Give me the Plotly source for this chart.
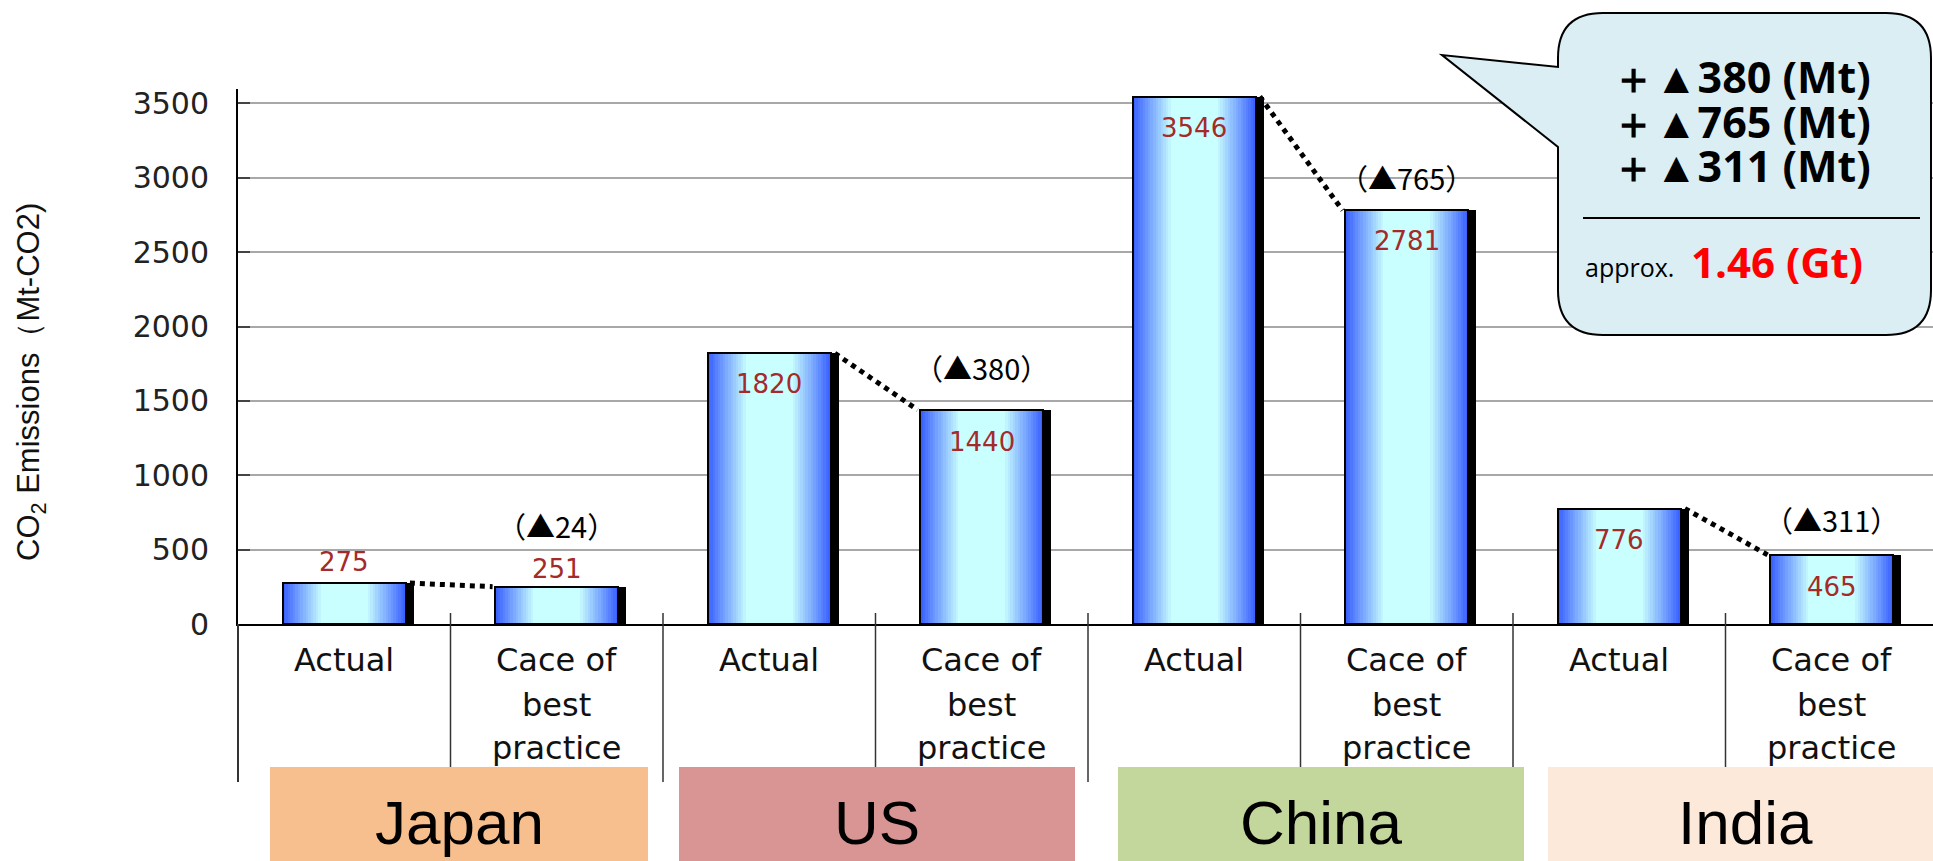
import plotly.graph_objects as go

# ---------------- data ----------------
countries = ["Japan", "US", "China", "India"]
actual = [275, 1820, 3546, 776]
best_practice = [251, 1440, 2781, 465]
reduction = [24, 380, 765, 311]
bar_labels = [["Actual"], ["Cace of", "best", "practice"]]
y_ticks = [0, 500, 1000, 1500, 2000, 2500, 3000, 3500]
callout_lines = ["＋▲380 (Mt)", "＋▲765 (Mt)", "＋▲311 (Mt)"]
callout_prefix = "approx."
callout_total = "1.46 (Gt)"
y_title = "CO<sub>2</sub> Emissions（Mt-CO2)"

# ---------------- layout geometry / styles ----------------
W, H = 1933, 861
L, T = 238, 89
PW, PH = 1695, 535
B = H - T - PH
CAT_PX = 212.5
XR = [-0.5, -0.5 + PW / CAT_PX]
YR = [0, 3597]
BAR_W = 0.58

group_colors = ["#f8bf8e", "#d99594", "#c3d69b", "#fde9d9"]
group_box_px = [(270, 648), (679, 1075), (1118, 1524), (1548, 1940)]
group_text_px = [459, 877, 1321, 1745]
label_color = "#a52a2a"


def px(x):
    return (x - L) / PW


def py(y):
    return (T + PH - y) / PH


def dx(x):
    return (x - XR[0]) / (XR[1] - XR[0])


# interleave values: Actual, Best practice per country
xs, vals = [], []
for g in range(len(countries)):
    xs += [2 * g, 2 * g + 1]
    vals += [actual[g], best_practice[g]]

fig = go.Figure()

# shadow
fig.add_trace(go.Bar(x=xs, y=vals, width=BAR_W, offset=-BAR_W / 2 + 8 / CAT_PX,
                     marker=dict(color="black", line=dict(width=0)), hoverinfo="skip"))

# gradient fill made from nested bars
edge = (58, 98, 255)
center = (202, 255, 255)
N = 16
for k in range(N):
    t = k / (N - 1)
    wk = BAR_W * (1 - 0.62 * t)
    c = tuple(round(edge[j] + (center[j] - edge[j]) * t) for j in range(3))
    fig.add_trace(go.Bar(x=xs, y=vals, width=wk,
                         marker=dict(color="rgb(%d,%d,%d)" % c, line=dict(width=0)),
                         hoverinfo="skip"))

# outline
fig.add_trace(go.Bar(x=xs, y=vals, width=BAR_W,
                     marker=dict(color="rgba(0,0,0,0)", line=dict(color="black", width=2)),
                     hoverinfo="skip"))

# dotted connectors
cx, cy = [], []
for g in range(len(countries)):
    i = 2 * g
    cx += [i + BAR_W / 2 + 4 / CAT_PX, i + 1 - BAR_W / 2 - 0.012, None]
    cy += [actual[g], best_practice[g], None]
fig.add_trace(go.Scatter(x=cx, y=cy, mode="lines",
                         line=dict(color="black", width=5, dash="dot"),
                         hoverinfo="skip"))

annotations = []
shapes = []


def ann(**kw):
    kw.setdefault("showarrow", False)
    kw.setdefault("xanchor", "center")
    kw.setdefault("yanchor", "middle")
    annotations.append(kw)


# value labels
value_shift = [21, 18, -31, -32, -31, -31, -31, -32]
for i, v in enumerate(vals):
    ann(x=xs[i], y=v, xref="x", yref="y", yshift=value_shift[i], text=str(v),
        font=dict(family="DejaVu Sans", size=26, color=label_color))

# reduction labels
red_shift = [62, 43, 33, 36]
for g in range(len(countries)):
    ann(x=2 * g + 1, y=best_practice[g], xref="x", yref="y", yshift=red_shift[g],
        text="（▲%d）" % reduction[g],
        font=dict(family="Noto Sans CJK JP", size=29, color="black"))

# category labels
line_shift = [-36, -81, -124]
for i in range(len(xs)):
    lines = bar_labels[i % 2]
    for j, ln in enumerate(lines):
        ann(x=xs[i], y=0, xref="x", yref="y", yshift=line_shift[j], text=ln,
            font=dict(family="DejaVu Sans", size=32, color="#111"))

# separators under axis
for k in range(len(xs) - 1):
    xp = dx(k + 0.5)
    shapes.append(dict(type="line", xref="paper", yref="paper",
                       x0=xp, x1=xp, y0=py(613), y1=py(782),
                       line=dict(color="#333", width=1.5)))
# y axis extension below
shapes.append(dict(type="line", xref="paper", yref="paper", x0=0, x1=0,
                   y0=py(624), y1=py(782), line=dict(color="#333", width=2)))

# country boxes
for g, name in enumerate(countries):
    x0, x1 = group_box_px[g]
    shapes.append(dict(type="rect", xref="paper", yref="paper",
                       x0=px(x0), x1=px(x1), y0=py(767), y1=py(880),
                       fillcolor=group_colors[g], line=dict(width=0)))
    ann(x=px(group_text_px[g]), y=py(822), xref="paper", yref="paper", text=name,
        font=dict(family="Liberation Sans", size=62, color="black"))

# callout bubble
bl, bt, br, bb, r = 1558, 13, 1931, 335, 45


def P(x, y):
    return "%.5f,%.5f" % (px(x), py(y))


path = ("M " + P(bl + r, bt) + " L " + P(br - r, bt) + " Q " + P(br, bt) + " " + P(br, bt + r) +
        " L " + P(br, bb - r) + " Q " + P(br, bb) + " " + P(br - r, bb) +
        " L " + P(bl + r, bb) + " Q " + P(bl, bb) + " " + P(bl, bb - r) +
        " L " + P(bl, 147) + " L " + P(1442, 55) + " L " + P(bl, 67) +
        " L " + P(bl, bt + r) + " Q " + P(bl, bt) + " " + P(bl + r, bt) + " Z")
shapes.append(dict(type="path", xref="paper", yref="paper", path=path,
                   fillcolor="#daeef3", line=dict(color="black", width=2), layer="above"))
shapes.append(dict(type="line", xref="paper", yref="paper", x0=px(1583), x1=px(1920),
                   y0=py(218), y1=py(218), line=dict(color="black", width=2), layer="above"))

for k, ln in enumerate(callout_lines):
    ann(x=px(1741), y=py(77 + 44 * k), xref="paper", yref="paper", text="<b>%s</b>" % ln,
        font=dict(family="Open Sans", size=43, color="black"))
ann(x=px(1583), y=py(267), xref="paper", yref="paper", xanchor="left", text=callout_prefix,
    font=dict(family="Open Sans", size=25, color="black"))
ann(x=px(1689), y=py(261), xref="paper", yref="paper", xanchor="left",
    text="<b>%s</b>" % callout_total,
    font=dict(family="Open Sans", size=42, color="#ff0000"))

# y axis title
ann(x=px(31), y=py(382), xref="paper", yref="paper", textangle=-90, text=y_title,
    font=dict(family="Liberation Sans", size=31, color="#111"))

fig.update_layout(
    width=W, height=H, autosize=False,
    margin=dict(l=L, r=W - L - PW, t=T, b=B, pad=0),
    paper_bgcolor="white", plot_bgcolor="white",
    barmode="overlay", bargap=0, showlegend=False, hovermode=False,
    xaxis=dict(range=XR, showgrid=False, zeroline=False, showticklabels=False,
               ticks="", showline=True, linecolor="black", linewidth=2, fixedrange=True),
    yaxis=dict(range=YR, tickvals=y_ticks, ticktext=[str(v) for v in y_ticks],
               showgrid=True, gridcolor="#a8a8a8", gridwidth=1.5, zeroline=False,
               showline=True, linecolor="black", linewidth=2,
               ticks="inside", ticklen=12, tickcolor="#444", tickwidth=1.5,
               ticklabelstandoff=21,
               tickfont=dict(family="DejaVu Sans", size=30, color="#222"), fixedrange=True),
    annotations=annotations, shapes=shapes,
)

fig.write_html("out.html")
